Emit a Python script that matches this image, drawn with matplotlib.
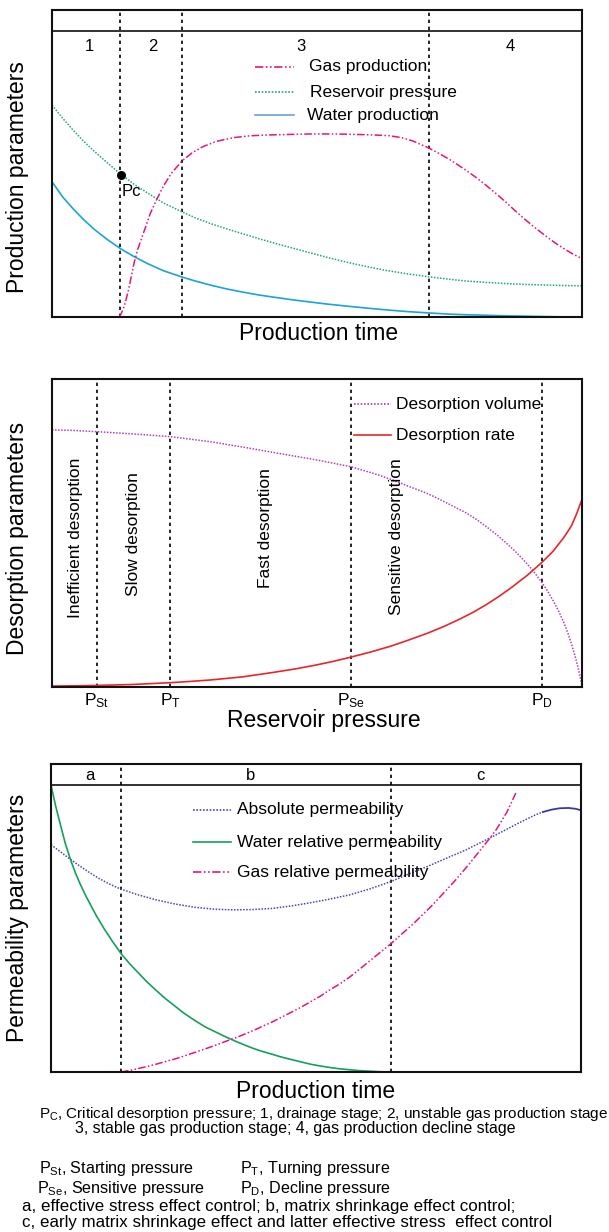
import matplotlib
matplotlib.use("Agg")
import matplotlib.pyplot as plt

plt.rcParams['font.family'] = ['Liberation Sans', 'DejaVu Sans']
plt.rcParams['mathtext.fontset'] = 'custom'
plt.rcParams['mathtext.rm'] = 'Liberation Sans'
plt.rcParams['mathtext.it'] = 'Liberation Sans:italic'
plt.rcParams['mathtext.bf'] = 'Liberation Sans:bold'

# ---------------- Panel 1 data (normalised time / value) ----------------
stage_bounds = [0.128, 0.245, 0.711]
stage_labels = ['1', '2', '3', '4']
stage_label_x = [0.070, 0.190, 0.469, 0.865]

pres_t = [0, .02, .04, .06, .08, .105, .13, .155, .18, .21, .245, .27, .3, .33, .36, .39, .416, .45, .48,
          .52, .562, .6, .63, .67, .713, .75, .78, .82, .856, .89, .93, .965, 1.0]
pres_v = [.741, .695, .653, .614, .579, .538, .499, .464, .434, .399, .368, .347, .326, .308, .291, .274, .26,
          .243, .228, .208, .189, .174, .163, .151, .14, .132, .126, .121, .117, .114, .112, .11, .109]

water_t = [0, .02, .04, .06, .08, .105, .13, .155, .18, .21, .245, .27, .3, .33, .36, .39, .416, .45, .48,
           .52, .562, .6, .63, .67, .713, .75, .78, .82, .856, .89, .93, .965, 1.0]
water_v = [.473, .42, .378, .34, .306, .27, .238, .211, .187, .162, .14, .126, .111, .098, .087, .077, .07,
           .061, .054, .045, .037, .03, .025, .019, .014, .01, .008, .006, .004, .003, .0015, .0005, 0]

gas_t = [.126, .128, .130, .133, .137, .141, .145, .150, .155, .162, .17, .178, .185, .196, .21, .225, .245,
         .265, .284, .31, .342, .37, .4, .44, .489, .53, .56, .6, .636, .66, .68, .695, .713, .73, .75, .765,
         .782, .80, .82, .84, .856, .873, .89, .91, .929, .947, .965, .982, 1.0]
gas_v = [0, .004, .01, .022, .042, .07, .10, .145, .19, .238, .28, .322, .36, .405, .457, .502, .545,
         .575, .595, .614, .627, .633, .636, .638, .64, .64, .639, .637, .634, .627, .616, .604, .589, .572,
         .551, .533, .512, .488, .459, .428, .402, .373, .345, .314, .287, .262, .24, .221, .204]

pc_point = (0.130, 0.496)

# ---------------- Panel 2 data ----------------
desorp_bounds = [0.084, 0.223, 0.564, 0.924]
desorp_ticklabels = [r'P$_{\rm St}$', r'P$_{\rm T}$', r'P$_{\rm Se}$', r'P$_{\rm D}$']
region_labels = ['Inefficient desorption', 'Slow desorption', 'Fast desorption', 'Sensitive desorption']
region_x = [0.045, 0.153, 0.403, 0.650]
region_y = [0.484, 0.495, 0.516, 0.487]

vol_t = [0, .04, .084, .15, .223, .26, .3, .36, .416, .46, .5, .53, .564, .6, .62, .646, .672, .7, .72, .75,
         .782, .80, .82, .84, .856, .873, .89, .908, .924, .935, .945, .955, .966, .974, .98, .987, .993, 1.0]
vol_v = [.835, .833, .829, .822, .813, .805, .796, .779, .762, .749, .737, .727, .715, .697, .686, .67, .652,
         .634, .619, .593, .565, .545, .52, .493, .469, .442, .412, .377, .34, .312, .282, .25, .208, .172,
         .14, .1, .06, .005]

rate_t = [0, .05, .084, .15, .223, .26, .3, .36, .416, .46, .5, .53, .564, .6, .64, .672, .709, .74, .77,
          .795, .819, .845, .87, .897, .924, .945, .966, .98, .99, 1.0]
rate_v = [.003, .004, .005, .008, .014, .018, .023, .033, .047, .059, .072, .083, .097, .113, .133, .152,
          .175, .197, .221, .243, .267, .296, .327, .363, .404, .44, .486, .523, .563, .609]

# ---------------- Panel 3 data ----------------
perm_bounds = [0.132, 0.642]
perm_labels = ['a', 'b', 'c']
perm_label_x = [0.073, 0.377, 0.810]

wrel_t = [0, .009, .018, .027, .037, .046, .055, .064, .073, .086, .1, .116, .132, .148, .165, .18, .198,
          .215, .235, .25, .271, .29, .31, .33, .351, .368, .385, .4, .417, .433, .45, .47, .49, .508, .525,
          .545, .563, .58, .6, .62, .644]
wrel_v = [1.0, .925, .86, .796, .739, .694, .655, .62, .588, .543, .50, .455, .413, .378, .345, .316, .285,
          .257, .228, .206, .180, .158, .14, .122, .105, .092, .08, .071, .062, .053, .045, .036, .027, .021,
          .016, .011, .008, .005, .003, .001, 0]

grel_t = [.132, .15, .165, .18, .198, .215, .235, .25, .271, .29, .31, .33, .351, .368, .385, .4, .417, .433,
          .45, .47, .49, .508, .525, .545, .563, .58, .6, .62, .642, .66, .68, .70, .72, .74, .76, .775, .79,
          .803, .816, .829, .841, .85, .86, .868, .877]
grel_v = [0, .006, .012, .019, .027, .036, .046, .055, .068, .08, .093, .107, .121, .134, .147, .16, .174,
          .189, .205, .224, .245, .264, .285, .307, .33, .355, .385, .415, .448, .478, .51, .546, .582, .622,
          .662, .694, .727, .757, .787, .817, .847, .874, .905, .936, .972]

abs_t = [0, .025, .051, .07, .09, .11, .132, .165, .198, .235, .271, .31, .344, .38, .417, .455, .49, .525,
         .563, .6, .642, .675, .71, .745, .783, .82, .856, .885, .914, .928, .944, .96, .977, .99, 1.0]
abs_v = [.792, .757, .722, .698, .675, .655, .637, .617, .6, .585, .574, .567, .565, .566, .570, .579, .59,
         .602, .617, .637, .664, .69, .716, .744, .774, .808, .842, .87, .896, .906, .914, .919, .92, .917,
         .912]
abs_solid_from = 29  # index where the curve turns solid

# ---------------- Styles ----------------
W, H = 609, 1232
fig = plt.figure(figsize=(W / 100, H / 100), dpi=100)

def fax(x0, y0, x1, y1):
    return fig.add_axes([x0 / W, 1 - y1 / H, (x1 - x0) / W, (y1 - y0) / H])

vdash = dict(color='black', lw=1.2, dashes=(2.0, 2.2))
GAS = '#E4157F'
GREEN_DOT = '#1FA86A'
WATER = '#1CA3D8'
DASHDOT2 = (5, 1.5, 1, 1.5, 1, 1.5)
LEG_FS = 12.5
LAB_FS = 16.5

def frame(ax):
    ax.set_xticks([])
    ax.set_yticks([])
    for s in ax.spines.values():
        s.set_linewidth(1.5)
        s.set_color('#111111')

# ---------------- Panel 1 ----------------
ax1 = fax(52, 10, 582, 317)
frame(ax1)
ax1.set_xlim(0, 1)
ax1.set_ylim(0, 307 / 286)
ax1.axhline(1.0, color='#222222', lw=1.3)
for b in stage_bounds:
    ax1.axvline(b, **vdash)
for lab, x in zip(stage_labels, stage_label_x):
    ax1.text(x, 0.945, lab, ha='center', va='center', fontsize=12)
ax1.plot(pres_t, pres_v, color=GREEN_DOT, lw=1.1, dashes=(1, 1))
ax1.plot(water_t, water_v, color=WATER, lw=1.2)
ax1.plot(gas_t, gas_v, color=GAS, lw=1.1, dashes=DASHDOT2)
ax1.plot([pc_point[0]], [pc_point[1]], 'o', color='black', ms=5.5)
ax1.text(pc_point[0] + 0.002, 0.44, 'Pc', fontsize=12, ha='left', va='center')
leg1 = [('Gas production', GAS, dict(dashes=DASHDOT2), 0.875, 0.485),
        ('Reservoir pressure', GREEN_DOT, dict(dashes=(1, 1)), 0.785, 0.487),
        ('Water production', '#6E9FD8', dict(), 0.706, 0.482)]
for txt, c, st, y, tx in leg1:
    ax1.plot([0.383, 0.456], [y, y], color=c, lw=1.2, **st)
    ax1.text(tx, y, txt, fontsize=LEG_FS, ha='left', va='center')
fig.text(18 / W, 1 - 177 / H, 'Production parameters', rotation=90, ha='center', va='center', fontsize=LAB_FS)
fig.text(319 / W, 1 - 334 / H, 'Production time', ha='center', va='center', fontsize=LAB_FS)

# ---------------- Panel 2 ----------------
ax2 = fax(52, 379, 582, 687)
frame(ax2)
ax2.set_xlim(0, 1)
ax2.set_ylim(0, 1)
for b in desorp_bounds:
    ax2.axvline(b, **vdash)
ax2.set_xticks(desorp_bounds)
ax2.set_xticklabels(desorp_ticklabels, fontsize=12.5)
ax2.tick_params(axis='x', length=0, pad=3)
ax2.plot(vol_t, vol_v, color='#B43CBE', lw=1.1, dashes=(1, 1))
ax2.plot(rate_t, rate_v, color='#E8262A', lw=1.2)
for lab, x, y in zip(region_labels, region_x, region_y):
    ax2.text(x, y, lab, rotation=90, ha='center', va='center', fontsize=12.5)
ax2.plot([0.570, 0.639], [0.918, 0.918], color='#B43CBE', lw=1.2, dashes=(1, 1))
ax2.text(0.650, 0.918, 'Desorption volume', fontsize=LEG_FS, ha='left', va='center')
ax2.plot([0.570, 0.639], [0.818, 0.818], color='#E8262A', lw=1.2)
ax2.text(0.650, 0.818, 'Desorption rate', fontsize=LEG_FS, ha='left', va='center')
fig.text(18 / W, 1 - 538 / H, 'Desorption parameters', rotation=90, ha='center', va='center', fontsize=LAB_FS)
fig.text(324 / W, 1 - 720 / H, 'Reservoir pressure', ha='center', va='center', fontsize=LAB_FS)

# ---------------- Panel 3 ----------------
ax3 = fax(51, 764, 581, 1072)
frame(ax3)
ax3.set_xlim(0, 1)
ax3.set_ylim(0, 308 / 287)
ax3.axhline(1.0, color='#222222', lw=1.3)
for b in perm_bounds:
    ax3.axvline(b, **vdash)
for lab, x in zip(perm_labels, perm_label_x):
    ax3.text(x, 1.033, lab, ha='center', va='center', fontsize=12)
ABS = '#4646B8'
ax3.plot(abs_t[:abs_solid_from + 1], abs_v[:abs_solid_from + 1], color=ABS, lw=1.1, dashes=(1, 1))
ax3.plot(abs_t[abs_solid_from:], abs_v[abs_solid_from:], color='#3A3A9E', lw=1.3)
ax3.plot(wrel_t, wrel_v, color='#14A05C', lw=1.2)
ax3.plot(grel_t, grel_v, color=GAS, lw=1.1, dashes=DASHDOT2)
leg3 = [('Absolute permeability', ABS, dict(dashes=(1, 1)), 0.914),
        ('Water relative permeability', '#14A05C', dict(), 0.801),
        ('Gas relative permeability', GAS, dict(dashes=DASHDOT2), 0.696)]
for txt, c, st, y in leg3:
    ax3.plot([0.268, 0.340], [y, y], color=c, lw=1.2, **st)
    ax3.text(0.351, y, txt, fontsize=LEG_FS, ha='left', va='center')
fig.text(18 / W, 1 - 918 / H, 'Permeability parameters', rotation=90, ha='center', va='center', fontsize=LAB_FS)
fig.text(316 / W, 1 - 1091 / H, 'Production time', ha='center', va='center', fontsize=LAB_FS)

# ---------------- Footnotes ----------------
notes = [
    (39, 1114, 11.0, r'P$_{\rm C}$, Critical desorption pressure; 1, drainage stage; 2, unstable gas production stage'),
    (75, 1129, 11.4, '3, stable gas production stage; 4, gas production decline stage'),
    (39, 1168, 11.6, r'P$_{\rm St}$, Starting pressure'),
    (240, 1168, 11.6, r'P$_{\rm T}$, Turning pressure'),
    (37, 1188, 11.6, r'P$_{\rm Se}$, Sensitive pressure'),
    (240, 1188, 11.6, r'P$_{\rm D}$, Decline pressure'),
    (22, 1207, 12.2, 'a, effective stress effect control; b, matrix shrinkage effect control;'),
    (22, 1222, 12.2, 'c, early matrix shrinkage effect and latter effective stress  effect control'),
]
for x, y, fs, t in notes:
    fig.text(x / W, 1 - y / H, t, ha='left', va='center', fontsize=fs)

fig.savefig('out.png', dpi=100)
